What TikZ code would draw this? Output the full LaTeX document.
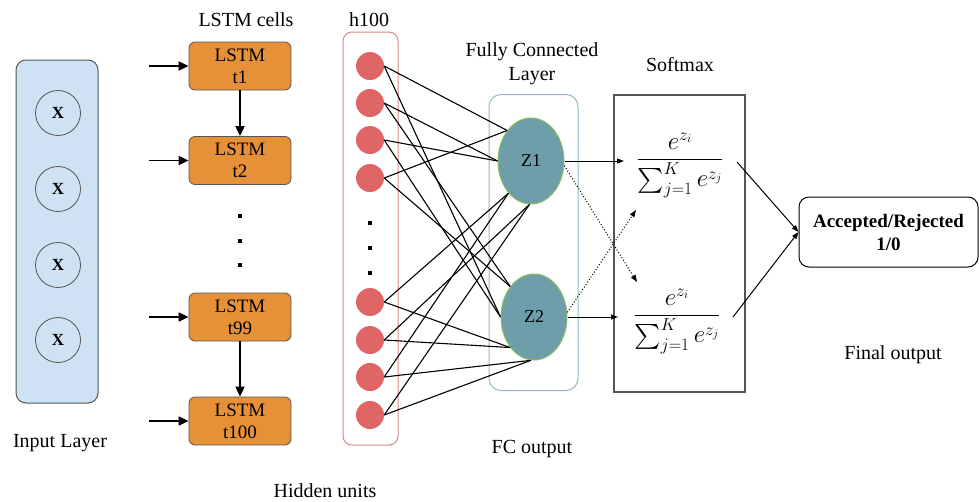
\documentclass[tikz,border=0pt]{standalone}
\usepackage{exscale}
\usepackage{fontspec}
\setmainfont{Liberation Serif}
\usetikzlibrary{arrows.meta,shapes.geometric}
\definecolor{inblue}{HTML}{CFE2F3}
\definecolor{lstmor}{HTML}{E69138}
\definecolor{hred}{HTML}{E06666}
\definecolor{hboxred}{HTML}{E08585}
\definecolor{fcteal}{HTML}{6D9EA9}
\definecolor{fcgreen}{HTML}{8CBF5E}
\definecolor{fcbox}{HTML}{8FBAC6}
\definecolor{edgegray}{HTML}{555555}
\begin{document}
\begin{tikzpicture}[x=1pt,y=-1pt,
  lbl/.style={font=\fontsize{20}{24}\selectfont, align=center, inner sep=0pt},
  inbox/.style={draw=edgegray, fill=inblue, rounded corners=10pt, line width=1pt},
  xcirc/.style={circle, draw=edgegray, fill=inblue, minimum size=45pt, inner sep=0pt, line width=0.8pt, font=\fontsize{17}{17}\selectfont\bfseries},
  lstm/.style={draw=edgegray, fill=lstmor, rounded corners=6pt, minimum width=102pt, minimum height=48pt, inner sep=0pt, align=center, line width=0.8pt, font=\fontsize{19}{22}\selectfont},
  hunit/.style={circle, fill=hred, minimum size=28pt, inner sep=0pt},
  hdot/.style={fill=black, minimum size=4pt, inner sep=0pt},
  zell/.style={ellipse, draw=fcgreen, fill=fcteal, minimum width=66pt, minimum height=86pt, inner sep=0pt, line width=1pt, font=\fontsize{18}{18}\selectfont},
  bigarrow/.style={-{Triangle[length=10pt,width=9pt]}, line width=1.9pt},
  net/.style={line width=1.1pt},
  smarr/.style={-{Triangle[length=7pt,width=5pt]}, line width=1pt},
  dotarr/.style={-{Triangle[length=7pt,width=5pt]}, line width=1pt, dotted},
  mathf/.style={inner sep=0pt, font=\fontsize{25}{30}\selectfont},
]
\useasboundingbox (0,0) rectangle (979,501);

% Input layer
\node[inbox, minimum width=82pt, minimum height=343pt] (inbox) at (57,231.5) {};
\node[xcirc] (x1) at (58,113) {X};
\node[xcirc] (x2) at (58,189) {X};
\node[xcirc] (x3) at (58,265) {X};
\node[xcirc] (x4) at (58,340) {X};
\node[lbl] (inlbl) at (60,443) {Input Layer};

% LSTM cells
\node[lbl] (lstmlbl) at (246,20) {LSTM cells};
\node[lstm] (l1) at (240,66) {LSTM\\t1};
\node[lstm] (l2) at (240,160.5) {LSTM\\t2};
\node[lstm] (l99) at (240,317) {LSTM\\t99};
\node[lstm] (l100) at (240,421) {LSTM\\t100};
\coordinate (i1) at (149,66);
\coordinate (i2) at (149,160.5);
\coordinate (i99) at (149,317);
\coordinate (i100) at (149,421);
\draw[bigarrow] (i1) -- (l1.west);
\draw[bigarrow] (i2) -- (l2.west);
\draw[bigarrow] (i99) -- (l99.west);
\draw[bigarrow] (i100) -- (l100.west);
\draw[bigarrow] (l1) -- (l2);
\draw[bigarrow] (l99) -- (l100);
\node[hdot] (ld1) at (240,216) {};
\node[hdot] (ld2) at (240,241) {};
\node[hdot] (ld3) at (240,265) {};

% Hidden units
\node[lbl] (hlbl) at (369,20) {h100};
\node[draw=hboxred, rounded corners=9pt, line width=1pt, minimum width=55pt, minimum height=413pt] (hbox) at (370.5,238.5) {};
\node[hunit] (h1) at (370,66) {};
\node[hunit] (h2) at (370,103) {};
\node[hunit] (h3) at (370,140) {};
\node[hunit] (h4) at (370,178) {};
\node[hdot] (hd1) at (370,223) {};
\node[hdot] (hd2) at (370,248) {};
\node[hdot] (hd3) at (370,273) {};
\node[hunit] (h5) at (370,302) {};
\node[hunit] (h6) at (370,340) {};
\node[hunit] (h7) at (370,377) {};
\node[hunit] (h8) at (370,415) {};
\node[lbl] (hulbl) at (325,491) {Hidden units};

% Fully connected layer
\node[lbl] (fclbl) at (532,64) {Fully Connected\\Layer};
\node[draw=fcbox, rounded corners=12pt, line width=1pt, minimum width=89pt, minimum height=296pt] (fcbox) at (533.5,242.5) {};
\node[zell] (z1) at (531,161) {Z1};
\node[zell] (z2) at (534,317) {Z2};
\node[lbl] (fcout) at (532,449) {FC output};

% connections to Z1
\draw[net] (h1.east) -- (z1.128);
\draw[net] (h2.east) -- (z1.180);
\draw[net] (h3.east) -- (z1.180);
\draw[net] (h4.east) -- (z1.128);
\draw[net] (h5.east) -- (z1.235);
\draw[net] (h6.east) -- (z1.268);
\draw[net] (h7.east) -- (z1.235);
\draw[net] (h8.east) -- (z1.268);
% connections to Z2
\draw[net] (h1.east) -- (z2.180);
\draw[net] (h2.east) -- (z2.128);
\draw[net] (h3.east) -- (z2.180);
\draw[net] (h4.east) -- (z2.128);
\draw[net] (h5.east) -- (z2.232);
\draw[net] (h6.east) -- (z2.232);
\draw[net] (h7.east) -- (z2.266);
\draw[net] (h8.east) -- (z2.266);

% Softmax
\node[lbl] (smlbl) at (680,65) {Softmax};
\node[draw=edgegray, line width=1.2pt, minimum width=131pt, minimum height=297pt] (smbox) at (679.5,243.5) {};
\node[mathf] (f1) at (680,165) {$\displaystyle\frac{e^{z_i}}{\sum_{j=1}^{K} e^{z_j}}$};
\node[mathf] (f2) at (677,321) {$\displaystyle\frac{e^{z_i}}{\sum_{j=1}^{K} e^{z_j}}$};
\coordinate (f1in) at (624,161);
\coordinate (f2in) at (618,317);
\coordinate (f1out) at (737,162);
\coordinate (f2out) at (733,317);
\coordinate (d1end) at (637,282);
\coordinate (d2end) at (636,210);
\draw[smarr] (z1.east) -- (f1in);
\draw[smarr] (z2.east) -- (f2in);
\draw[dotarr] (z1.-8) -- (d1end);
\draw[dotarr] (z2.8) -- (d2end);

% Output
\node[draw=black, rounded corners=10pt, line width=1pt, minimum width=179pt, minimum height=70pt, align=center, font=\fontsize{19}{23}\selectfont\bfseries] (out) at (888.5,232) {Accepted/Rejected\\1/0};
\draw[smarr] (f1out) -- (out.west);
\draw[smarr] (f2out) -- (out.west);
\node[lbl] (finlbl) at (893,355) {Final output};
\end{tikzpicture}
\end{document}
